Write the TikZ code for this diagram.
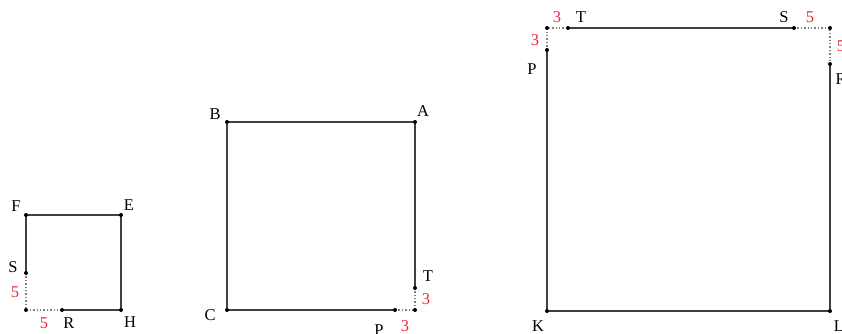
\documentclass[tikz,border=0pt]{standalone}
\usepackage{fontspec}
\setmainfont{Liberation Serif}
\usepackage{tikz}

\definecolor{numred}{RGB}{232,40,52}
\definecolor{sidegray}{RGB}{64,64,64}

\tikzset{
  side/.style={sidegray, line width=1.8pt},
  gap/.style={gray, dotted, line width=1.4pt},
  lbl/.style={font=\fontsize{16.5}{19}\selectfont, inner sep=0pt},
  num/.style={lbl, text=numred}
}

\begin{document}
\begin{tikzpicture}[x=1pt, y=-1pt]
\useasboundingbox (0,0) rectangle (842,333);

% small square EFSH
\coordinate (F) at (26,215);
\coordinate (E) at (121,215);
\coordinate (H) at (121,310);
\coordinate (R) at (62,310);
\coordinate (S) at (26,273);
\coordinate (cornerA) at (26,310);
\draw[side] (S) -- (F) -- (E) -- (H) -- (R);
\draw[gap] (S) -- (cornerA) -- (R);
\foreach \p in {F,E,H,R,S,cornerA} \fill (\p) circle (2pt);
\node[lbl] (labF) at (16,206) {F};
\node[lbl] (labE) at (129,205) {E};
\node[lbl] (labS) at (13,267) {S};
\node[num] (numSF) at (15,292) {5};
\node[num] (numRH) at (44,323) {5};
\node[lbl] (labR) at (69,323) {R};
\node[lbl] (labH) at (130,322) {H};

% middle square ABCD
\coordinate (B) at (227,122);
\coordinate (A) at (415,122);
\coordinate (T) at (415,288);
\coordinate (cornerB) at (415,310);
\coordinate (P) at (395,310);
\coordinate (C) at (227,310);
\draw[side] (T) -- (A) -- (B) -- (C) -- (P);
\draw[gap] (P) -- (cornerB) -- (T);
\foreach \p in {A,B,C,P,T,cornerB} \fill (\p) circle (2pt);
\node[lbl] (labB) at (215,114) {B};
\node[lbl] (labA) at (423,111) {A};
\node[lbl] (labC) at (210,315) {C};
\node[lbl] (labP) at (379,330) {P};
\node[num] (numPC) at (405,326) {3};
\node[lbl] (labT) at (428,276) {T};
\node[num] (numTA) at (426,299) {3};

% large square PRLK
\coordinate (cornerC) at (547,28);
\coordinate (T2) at (568,28);
\coordinate (S2) at (794,28);
\coordinate (cornerD) at (830,28);
\coordinate (R2) at (830,64);
\coordinate (L) at (830,311);
\coordinate (K) at (547,311);
\coordinate (P2) at (547,50);
\draw[side] (T2) -- (S2);
\draw[side] (R2) -- (L) -- (K) -- (P2);
\draw[gap] (P2) -- (cornerC) -- (T2);
\draw[gap] (S2) -- (cornerD) -- (R2);
\foreach \p in {cornerC,T2,S2,cornerD,R2,L,K,P2} \fill (\p) circle (2pt);
\node[num] (numTop3) at (557,17) {3};
\node[lbl] (labT2) at (581,17) {T};
\node[lbl] (labS2) at (784,17) {S};
\node[num] (numTop5) at (810,17) {5};
\node[num] (numLeft3) at (535,40) {3};
\node[lbl] (labP2) at (532,69) {P};
\node[num] (numRight5) at (841,46) {5};
\node[lbl] (labR2) at (841,79) {R};
\node[lbl] (labK) at (538,326) {K};
\node[lbl] (labL) at (839,326) {L};
\end{tikzpicture}
\end{document}
